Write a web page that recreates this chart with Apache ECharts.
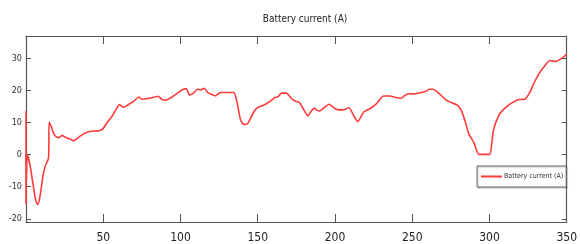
<!DOCTYPE html>
<html>
<head>
<meta charset="utf-8">
<script src="https://cdn.jsdelivr.net/npm/echarts@6/dist/echarts.min.js"></script>
<style>html,body{margin:0;padding:0;background:#fff}#c{width:580px;height:244px}</style>
</head>
<body>
<div id="c"></div>
<script>
var title = 'Battery current (A)';
var seriesName = 'Battery current (A)';
var xTicks = [50, 100, 150, 200, 250, 300, 350];
var yTicks = [-20, -10, 0, 10, 20, 30];
var timeX = [0,0,0.8,2.5,4.5,6,7.3,8.5,10,11,12.5,14.6,15,16.5,18,19.5,21,23.5,25,27,29,30.6,32.5,34.5,37,39.5,42,45,48,50,52.5,55.7,58,60.5,63,65,67.5,70,73,75,79,83.5,85.5,88,90,93,96,99,102.6,104,105.8,108,111,113,115.4,117.5,120,122.8,124.5,126,130,134.5,136.6,138.8,140.5,142,143.5,145,147,149.4,151.5,153.7,157,159,161,163,165.4,168.6,170.5,172.8,175,177,179,182.4,184.5,186.7,188.5,189.9,193,196.2,198.5,200.5,204.8,207,209,212.2,214.8,216.5,218.6,222.9,227.1,231.4,235.6,238.8,243,245,247.3,252,255.9,258,261.2,263,265.4,268,271.8,275,278.2,280.5,282.4,284.5,286.7,289.9,293.1,300.1,301.5,302.7,305.9,308.5,311.2,314,317.6,320,323,326.1,329,332.5,335.5,338.9,341,343.2,346,348,350];
var current = [13.5,-15.5,0,-3,-9,-13.5,-15.5,-14.5,-10,-6.5,-3.5,-1,10.2,8.6,6.5,5.6,5.3,6,5.6,5.1,4.8,4.3,4.8,5.6,6.4,7,7.3,7.4,7.5,8.2,10,12,13.8,15.6,14.8,15.2,16,16.8,18,17.3,17.5,18,18.2,17.2,17,17.5,18.5,19.5,20.5,20.5,18.6,19,20.4,20.2,20.7,19.4,18.8,18.3,19,19.4,19.4,19.4,16.3,11,9.6,9.4,9.7,11,13,14.5,15,15.4,16.3,17,17.8,18,19.2,19.2,18.3,17.1,16.6,16.3,14.7,12.1,13.5,14.5,13.8,13.6,14.7,15.7,14.9,14.2,13.9,14.2,14.7,12.1,10.3,11.5,13.3,14.4,16,18.3,18.3,17.9,17.6,18.4,18.9,19,19.4,19.6,20.4,20.4,19.9,18.8,17.1,16.3,15.7,14.8,13.1,10,6.4,3.8,0.1,0.1,3.5,7.9,12.1,13.8,15,16,17,17.2,17.3,19.4,22.5,25.6,27.5,29.3,29.2,29.1,29.8,30.5,31.4];

var FONT = "'Liberation Sans Narrow', 'DejaVu Sans Condensed', 'Liberation Sans', sans-serif";
var AX = '#555';
var data = timeX.map(function (x, i) { return [x, current[i]]; });

var chart = echarts.init(document.getElementById('c'), null, {renderer: 'canvas'});
chart.setOption({
  animation: false,
  backgroundColor: '#fff',
  title: {
    text: title, left: 300, top: 9, textAlign: 'center',
    textStyle: {fontFamily: FONT, fontSize: 10, fontWeight: 'normal', color: '#222'}
  },
  legend: {
    left: 477, top: 166,
    padding: [7, 3, 7, 4],
    borderColor: '#666', borderWidth: 1, backgroundColor: '#fff',
    shadowColor: 'rgba(0,0,0,0.25)', shadowOffsetX: 1, shadowOffsetY: 1, shadowBlur: 1,
    itemWidth: 21, itemHeight: 2, itemGap: 4,
    icon: 'rect',
    textStyle: {fontFamily: FONT, fontSize: 7, color: '#333', padding: [0, 0, 0, -3]},
    data: [seriesName]
  },
  grid: {left: 26, right: 5, top: 36, bottom: 22, containLabel: false},
  xAxis: [
    {
      type: 'value', min: 0, max: 350, position: 'bottom',
      axisLine: {show: true, onZero: false, lineStyle: {color: AX, width: 1.2}},
      axisTick: {show: true, inside: true, length: 8, customValues: xTicks, lineStyle: {color: AX}},
      axisLabel: {show: true, customValues: xTicks, margin: 10, fontFamily: FONT, fontSize: 12, color: '#222'},
      splitLine: {show: false}
    },
    {
      type: 'value', min: 0, max: 350, position: 'top',
      axisLine: {show: true, onZero: false, lineStyle: {color: AX, width: 1.2}},
      axisTick: {show: true, inside: true, length: 8, customValues: xTicks, lineStyle: {color: AX}},
      axisLabel: {show: false},
      splitLine: {show: false}
    }
  ],
  yAxis: [
    {
      type: 'value', min: -21, max: 37, position: 'left',
      axisLine: {show: true, onZero: false, lineStyle: {color: AX, width: 1.2}},
      axisTick: {show: true, inside: true, length: 5, customValues: yTicks, lineStyle: {color: AX}},
      axisLabel: {show: true, customValues: yTicks, margin: 4, fontFamily: FONT, fontSize: 9, color: '#333'},
      splitLine: {show: false}
    },
    {
      type: 'value', min: -21, max: 37, position: 'right',
      axisLine: {show: true, onZero: false, lineStyle: {color: AX, width: 1.2}},
      axisTick: {show: true, inside: true, length: 5, customValues: yTicks, lineStyle: {color: AX}},
      axisLabel: {show: false},
      splitLine: {show: false}
    }
  ],
  series: [{
    name: seriesName,
    type: 'line',
    xAxisIndex: 0, yAxisIndex: 0,
    data: data,
    showSymbol: false,
    smooth: 0.2,
    clip: true,
    color: '#ff3b3b',
    lineStyle: {color: '#ff3b3b', width: 1.6}
  }]
});
</script>
</body>
</html>
